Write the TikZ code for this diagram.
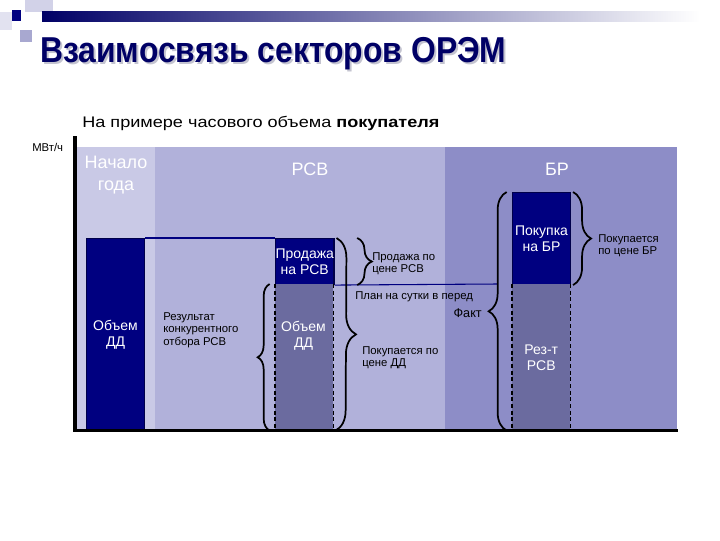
\documentclass[tikz,border=0pt]{standalone}
\usepackage{fontspec}
\setmainfont{Liberation Sans}
\usepackage{xcolor}
\usetikzlibrary{decorations.pathreplacing}

\definecolor{titleNavy}{HTML}{000066}
\definecolor{navyBox}{HTML}{000080}
\definecolor{navyEdge}{HTML}{00004A}
\definecolor{dashFill}{HTML}{6B6B9F}
\definecolor{nachaloFill}{HTML}{C9C9E6}
\definecolor{rsvFill}{HTML}{B1B1DA}
\definecolor{brFill}{HTML}{8D8DC7}
\definecolor{shadowGray}{HTML}{C4C4D0}

\begin{document}
\begin{tikzpicture}[x=0.75pt,y=0.75pt,yscale=-1,xscale=1,
    navybox/.style={fill=navyBox, draw=navyEdge, line width=0.8pt, inner sep=0pt, minimum width=43.5pt, anchor=north west, text=white, align=center, font=\fontsize{10.5}{12}\selectfont},
    dashbox/.style={fill=dashFill, inner sep=0pt, minimum width=43.5pt, anchor=north west, text=white, align=center, font=\fontsize{10.5}{12}\selectfont},
    dashline/.style={black, line width=1.4pt, dash pattern={on 3pt off 2pt}},
    navline/.style={navyBox, line width=0.8pt},
    bracket/.style={black, line width=1.3pt, decorate},
    headtext/.style={text=white, align=center, inner sep=0.75pt, font=\fontsize{13.5}{17}\selectfont},
    smalltext/.style={anchor=north west, align=left, inner sep=0.75pt, font=\fontsize{8.5}{9.6}\selectfont}]
%uncomment if require: \path (0,540); %set diagram left start at 0, and has height of 540
\useasboundingbox (0,0) rectangle (720,540);

%Shape: Rectangle [corner squares]
\fill [color={rgb,255:red,226;green,226;blue,240}] (0,12) rectangle (12,30);
\fill [color={rgb,255:red,210;green,210;blue,232}] (25,0) rectangle (53,12);
\fill [color={rgb,255:red,168;green,168;blue,208}] (20,30) rectangle (32,42);
%Shape: Gradient bar
\shade [left color=titleNavy, middle color={rgb,255:red,110;green,110;blue,155}, right color=white] (42,11) rectangle (700,21);
\fill [navyBox] (12,10) rectangle (21,21);

% Text Node
\node [anchor=base west, inner sep=0pt, xscale=0.885, text=shadowGray, font=\fontsize{27}{30}\selectfont\bfseries] at (42,64) {Взаимосвязь секторов ОРЭМ};
\node (title) [anchor=base west, inner sep=0pt, xscale=0.885, text=titleNavy, font=\fontsize{27}{30}\selectfont\bfseries] at (40,62) {Взаимосвязь секторов ОРЭМ};
% Text Node
\node (subtitle) [anchor=base west, inner sep=0pt, xscale=1.18, font=\fontsize{11.5}{14}\selectfont] at (82,127) {На примере часового объема \textbf{покупателя}};
% Text Node
\node (unit) [anchor=base west, inner sep=0pt, font=\fontsize{8.5}{10}\selectfont] at (32,151) {МВт/ч};

%Shape: Rectangle [sectors]
\fill [nachaloFill] (77,147) rectangle (155,429);
\fill [rsvFill] (155,147) rectangle (445,429);
\fill [brFill] (445,147) rectangle (677,429);

% Text Node
\node (nachalo) [headtext] at (116,175) {Начало\\года};
\node (rsv) [headtext] at (310,169) {РСВ};
\node (br) [headtext] at (557,169) {БР};

%Shape: Rectangle [volumes]
\node (objDD) [navybox, minimum height=144pt] at (86,238) {Объем\\ДД};
\node (prodRSV) [navybox, minimum height=34.5pt] at (275,238) {Продажа\\на РСВ};
\node (obemRSV) [dashbox, minimum height=109.5pt] at (275,284) {};
\node (pokBR) [navybox, minimum height=69pt] at (512,192) {Покупка\\на БР};
\node (rezRSV) [dashbox, minimum height=109.5pt] at (512,284) {Рез-т\\РСВ};
\node [text=white, align=center, font=\fontsize{10.5}{12}\selectfont] at (303.5,336) {Объем\\ДД};

%Straight Lines
\draw [dashline] (obemRSV.north west) -- (obemRSV.south west);
\draw [dashline] (obemRSV.north east) -- (obemRSV.south east);
\draw [dashline] (rezRSV.north west) -- (rezRSV.south west);
\draw [dashline] (rezRSV.north east) -- (rezRSV.south east);
\coordinate (planEnd) at (497,284);
\draw [navline] (objDD.north east) -- (prodRSV.north west);
\draw [navline] (prodRSV.south east) -- (planEnd);

%Curve Lines [braces]
\draw [bracket, decoration={brace, amplitude=15pt}] ([xshift=1.5pt]prodRSV.north east) -- ([xshift=1.5pt]obemRSV.south east);
\draw [bracket, decoration={brace, amplitude=11pt}] ([xshift=17pt]prodRSV.north east) -- ([xshift=17pt]prodRSV.south east);
\draw [bracket, decoration={brace, amplitude=9pt}] ([xshift=-4pt]obemRSV.south west) -- ([xshift=-4pt]obemRSV.north west);
\draw [bracket, decoration={brace, amplitude=13.5pt}] ([xshift=-4pt]rezRSV.south west) -- ([xshift=-4pt]pokBR.north west);
\draw [bracket, decoration={brace, amplitude=13.5pt}] ([xshift=1.5pt]pokBR.north east) -- ([xshift=1.5pt]pokBR.south east);

% Text Node
\node (prodPrice) [smalltext] at (371,251) {Продажа по\\цене РСВ};
% Text Node
\node (brPrice) [smalltext] at (597,233) {Покупается\\по цене БР};
% Text Node
\node (plan) [smalltext] at (354,290) {План на сутки в перед};
% Text Node
\node (fakt) [anchor=north east, inner sep=0.75pt, font=\fontsize{9.5}{11}\selectfont] at (483,307) {Факт};
% Text Node
\node (ddPrice) [smalltext] at (361,345) {Покупается по\\цене ДД};
% Text Node
\node (result) [smalltext] at (162,311) {Результат\\конкурентного\\отбора РСВ};

%Straight Lines [axes]
\draw [black, line width=2.8pt] (75,136) -- (75,430.5) -- (678,430.5);

\end{tikzpicture}
\end{document}
